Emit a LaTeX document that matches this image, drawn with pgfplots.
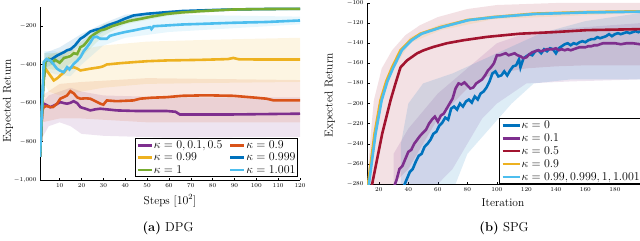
\documentclass[border=0pt]{standalone}
\usepackage{pgfplots}
\pgfplotsset{compat=1.18}
\definecolor{mpurple}{RGB}{126,47,142}
\definecolor{morange}{RGB}{217,83,25}
\definecolor{myellow}{RGB}{237,177,32}
\definecolor{mblue}{RGB}{0,114,189}
\definecolor{mgreen}{RGB}{119,172,48}
\definecolor{mcyan}{RGB}{77,190,238}
\definecolor{mred}{RGB}{162,20,47}
\pgfplotsset{
  common/.style={
    scale only axis,
    axis lines*=left,
    axis line style={black, line width=0.6bp},
    tick style={black, line width=0.5bp},
    major tick length=2.5bp,
    tick align=inside,
    ticklabel style={font=\fontsize{6}{7}\selectfont},
    label style={font=\fontsize{11.5}{13}\selectfont},
    every axis plot/.append style={line width=2.6bp},
    legend style={font=\fontsize{12.3}{13}\selectfont, draw=black, line width=0.7bp, fill=white, inner sep=1.5bp, row sep=2bp, nodes={inner sep=0.6bp}},
    legend cell align=left,
    legend image code/.code={\draw[line width=2.6bp,#1] (0bp,0bp) -- (14bp,0bp);},
  },
  band/.style={draw=none, fill=#1, fill opacity=0.13, forget plot, line width=0pt},
}
\begin{document}
\begin{tikzpicture}[x=1bp,y=1bp]
\useasboundingbox (0,0) rectangle (640,240);
% ---------------- (a) DPG ----------------
\begin{axis}[common,
  at={(40bp,60bp)}, anchor=south west,
  width=260bp, height=173bp,
  xmin=1, xmax=120, ymin=-1000, ymax=-100,
  xtick={10,20,...,120}, ytick={-1000,-800,-600,-400,-200},
  xlabel={Steps [$10^2$]}, ylabel={Expected Return},
  xlabel style={at={(axis description cs:0.5,-0.12)}, anchor=center},
  ylabel style={at={(axis description cs:-0.123,0.457)}, anchor=center},
  legend columns=2,
  legend style={at={(0.992,0.017)}, anchor=south east, /tikz/every even column/.append style={column sep=6bp}},
]
% bands
\addplot[band=mpurple] coordinates {(2,-600)(5,-560)(10,-540)(15,-520)(20,-540)(30,-560)(60,-570)(120,-570)(120,-775)(60,-780)(30,-770)(20,-760)(15,-720)(10,-700)(5,-720)(2,-780)};
\addplot[band=morange] coordinates {(2,-560)(10,-500)(20,-490)(50,-470)(120,-480)(120,-700)(50,-700)(20,-680)(10,-680)(2,-700)};
\addplot[band=myellow] coordinates {(2,-380)(5,-350)(10,-330)(20,-320)(30,-300)(50,-280)(80,-270)(120,-260)(120,-490)(80,-495)(50,-500)(30,-520)(20,-540)(10,-560)(5,-540)(2,-480)};
\addplot[band=mgreen] coordinates {(3,-340)(10,-340)(20,-280)(30,-190)(40,-160)(60,-125)(90,-108)(120,-105)(120,-115)(90,-118)(60,-145)(40,-190)(30,-250)(20,-360)(10,-430)(3,-420)};
\addplot[band=mblue] coordinates {(3,-340)(10,-310)(20,-240)(30,-185)(40,-140)(60,-120)(90,-108)(120,-105)(120,-115)(90,-118)(60,-135)(40,-170)(30,-230)(20,-300)(10,-380)(3,-420)};
\addplot[band=mcyan] coordinates {(3,-330)(8,-330)(15,-370)(20,-310)(25,-230)(30,-200)(40,-150)(60,-140)(120,-150)(120,-190)(60,-230)(40,-260)(30,-300)(20,-400)(15,-460)(8,-450)(3,-430)};
% lines
\addplot[mpurple] coordinates {(1,-880)(2,-620)(2.7,-603)(4,-610)(5.7,-621)(7.5,-612)(10.3,-595)(12,-600)(13.4,-603)(15,-598)(16.4,-590)(18,-600)(19.5,-621)(22,-630)(24,-638)(26.5,-632)(28.6,-629)(32,-633)(36.2,-638)(45,-641)(59,-641)(63,-645)(65,-659)(89.5,-659)(120,-655)};
\addlegendentry{$\kappa=0, 0.1, 0.5$}
\addplot[morange] coordinates {(1,-880)(2,-640)(2.7,-621)(4,-615)(5.7,-621)(7,-620)(8.8,-603)(10.3,-577)(12,-568)(13.4,-560)(14.9,-538)(16.5,-550)(18,-570)(19.5,-577)(22,-575)(24,-577)(26,-588)(28.6,-603)(30,-608)(31.6,-586)(36,-590)(43.8,-586)(46.8,-577)(52,-572)(59,-569)(66,-562)(74.2,-560)(80,-560)(89.5,-562)(100,-572)(104.7,-577)(108,-586)(120,-586)};
\addlegendentry{$\kappa=0.9$}
\addplot[myellow] coordinates {(1,-880)(2.5,-480)(3.5,-421)(5.7,-456)(7.3,-482)(9,-470)(10.3,-456)(12,-440)(13.4,-421)(14.5,-418)(16.4,-413)(18,-420)(19.5,-430)(22,-425)(24,-421)(28.6,-413)(30,-408)(31.6,-399)(38,-392)(43.8,-387)(50,-382)(59,-378)(74.2,-375)(87,-371)(89.5,-365)(92,-372)(100,-373)(120,-373)};
\addlegendentry{$\kappa=0.99$}
\addplot[mblue] coordinates {(1,-880)(2.5,-500)(3.5,-380)(5,-375)(6.5,-370)(8.5,-355)(10.3,-344)(12,-335)(13.4,-325)(15,-320)(17,-300)(19.5,-265)(21,-255)(24,-228)(26,-220)(28.6,-213)(32,-195)(36.2,-179)(40,-160)(43.8,-144)(50,-135)(59,-127)(66,-121)(74,-118)(82,-115)(89.5,-113)(100,-111)(110,-110)(120,-110)};
\addlegendentry{$\kappa=0.999$}
\addplot[mgreen] coordinates {(1,-880)(2.5,-500)(3.5,-380)(5,-370)(6.5,-390)(8,-375)(10,-390)(12,-365)(13.4,-361)(15,-355)(16.5,-340)(18,-345)(19.5,-309)(21,-300)(22.5,-280)(24,-257)(26,-240)(28.6,-222)(31,-215)(34,-200)(37.5,-187)(42,-172)(46.8,-162)(52,-150)(59,-136)(66,-128)(74,-122)(82,-117)(89.5,-113)(100,-111)(110,-110)(120,-110)};
\addlegendentry{$\kappa=1$}
\addplot[mcyan] coordinates {(1,-880)(2.7,-387)(4,-370)(5.7,-378)(7,-395)(8.8,-421)(10,-430)(11.8,-439)(13.4,-413)(14.5,-425)(16.4,-396)(18,-380)(19.5,-361)(21,-330)(22.5,-309)(24,-285)(25.5,-257)(27,-255)(28.6,-265)(31.6,-265)(33,-250)(36.2,-240)(40,-230)(43.8,-222)(48,-212)(51.4,-205)(52,-215)(53,-200)(59,-196)(66,-191)(74.2,-188)(89.5,-182)(104.7,-178)(120,-170)};
\addlegendentry{$\kappa=1.001$}
\end{axis}
% ---------------- (b) SPG ----------------
\begin{axis}[common,
  at={(367bp,56bp)}, anchor=south west,
  width=273bp, height=181bp,
  xmin=12, xmax=197, ymin=-280, ymax=-100,
  xtick={20,40,...,180}, ytick={-280,-260,...,-100},
  xlabel={Iteration}, ylabel={Expected Return},
  xlabel style={at={(axis description cs:0.498,-0.105)}, anchor=center},
  ylabel style={at={(axis description cs:-0.136,0.49)}, anchor=center},
  legend style={at={(1.008,0.0)}, anchor=south east, font=\fontsize{13}{14}\selectfont, row sep=2.5bp},
  legend image code/.code={\draw[line width=2.6bp,#1] (0bp,0bp) -- (17bp,0bp);},
]
\addplot[band=mred] coordinates {(12,-280)(14,-240)(16.6,-197)(22,-165)(29,-147)(38,-132)(48,-122)(60,-114)(80,-106)(100,-102)(140,-100)(197,-100)(197,-162)(160,-162)(140,-163)(120,-165)(100,-170)(90,-175)(80,-185)(70,-200)(60,-215)(50,-240)(40,-265)(30,-280)};
\addplot[band=mpurple] coordinates {(30,-250)(40,-225)(60,-190)(80,-165)(100,-140)(120,-130)(150,-125)(197,-120)(197,-176)(150,-178)(120,-180)(100,-200)(90,-215)(80,-240)(70,-265)(60,-280)(30,-280)};
\addplot[band=mblue] coordinates {(35,-240)(40,-200)(50,-180)(70,-170)(100,-150)(130,-130)(160,-118)(197,-110)(197,-176)(150,-176)(125,-180)(110,-200)(95,-225)(80,-250)(72,-280)(35,-280)};
\addplot[band=myellow] coordinates {(11,-310)(17,-225)(21,-192)(29,-160)(41,-134)(62,-121)(98,-112)(197,-107)(197,-110)(98,-116)(62,-127)(41,-140)(29,-168)(21,-202)(17,-235)(12,-320)};
% lines
\addplot[mblue] coordinates {(37,-282)(39,-275)(41,-268)(43,-265)(45,-258)(47,-252)(49,-250)(51,-243)(53,-240)(55,-236)(57,-230)(59,-228)(61,-222)(63,-219)(65,-214)(67,-216)(69,-205)(71,-203)(73,-206)(75,-200)(77,-203)(79,-198)(81,-196)(83,-199)(85,-193)(87,-196)(89,-190)(91,-188)(93,-184)(95,-178)(97,-170)(99,-168)(101,-173)(103,-172)(105,-168)(107,-172)(109,-167)(111,-163)(113,-162)(115,-156)(116,-164)(118,-155)(120,-153)(122,-151)(124,-152)(126,-148)(128,-147)(130,-150)(132,-146)(134,-148)(136,-145)(138,-146)(140,-150)(142,-145)(144,-143)(146,-141)(148,-140)(150,-142)(152,-140)(154,-141)(156,-139)(158,-138)(160,-139)(162,-137)(164,-136)(166,-136)(168,-134)(170,-135)(172,-134)(174,-133)(176,-131)(178,-133)(180,-131)(182,-130)(184,-131)(186,-130)(188,-129)(190,-130)(192,-129)(194,-128)(196,-129)(197,-128)};
\addlegendentry{$\kappa=0$}
\addplot[mpurple] coordinates {(30,-284)(32,-276)(34,-265)(36,-262)(38,-255)(40,-248)(42,-246)(44,-240)(46,-236)(48,-232)(50,-229)(52,-226)(54,-220)(56,-216)(58,-213)(60,-218)(62,-212)(64,-210)(66,-205)(68,-200)(70,-195)(72,-185)(74,-180)(76,-181)(78,-179)(80,-182)(82,-185)(84,-184)(86,-180)(88,-178)(90,-176)(92,-172)(94,-167)(96,-164)(98,-160)(100,-152)(102,-152)(104,-151)(106,-150)(108,-152)(110,-151)(112,-150)(114,-152)(116,-153)(118,-155)(120,-154)(122,-151)(124,-149)(126,-148)(128,-147)(130,-148)(132,-147)(134,-146)(136,-146)(138,-146)(140,-145)(142,-147)(144,-146)(146,-147)(148,-146)(150,-147)(152,-146)(154,-145)(156,-144)(158,-144)(160,-144)(162,-143)(164,-143)(166,-142)(168,-142)(170,-141)(172,-140)(176,-140)(180,-140)(184,-141)(188,-140)(192,-140)(197,-141)};
\addlegendentry{$\kappa=0.1$}
\addplot[mred] coordinates {(14,-300)(15.5,-280)(22.3,-230)(27.9,-197)(31.3,-180)(34.7,-164)(39.2,-157)(46,-150)(50.4,-147)(57.2,-143.6)(66.2,-140)(77.5,-137)(93.3,-133.7)(115.8,-130.5)(138.3,-129)(160.9,-127)(196.9,-126)};
\addlegendentry{$\kappa=0.5$}
\addplot[myellow] coordinates {(11,-320)(12.8,-279)(17.1,-230)(21.1,-197)(25,-178)(29,-164)(34.7,-147)(41.4,-137)(48.2,-130.5)(61.7,-124)(79.8,-117)(97.8,-114)(124.8,-110.6)(160.9,-109)(196.9,-108.3)};
\addlegendentry{$\kappa=0.9$}
\addplot[mcyan] coordinates {(11.6,-320)(13.4,-279)(17.8,-230)(21.9,-197)(25.8,-178)(29.9,-164)(35.6,-147)(42.3,-137)(49.2,-130.5)(62.8,-124)(81,-117)(99,-114)(126,-110.9)(161,-109.4)(197,-108.7)};
\addlegendentry{$\kappa=0.99, 0.999, 1, 1.001$}
\end{axis}
\node[font=\fontsize{13}{15}\selectfont] at (168,12) {\textbf{(a)} DPG};
\node[font=\fontsize{13}{15}\selectfont] at (504,12) {\textbf{(b)} SPG};
\end{tikzpicture}
\end{document}
